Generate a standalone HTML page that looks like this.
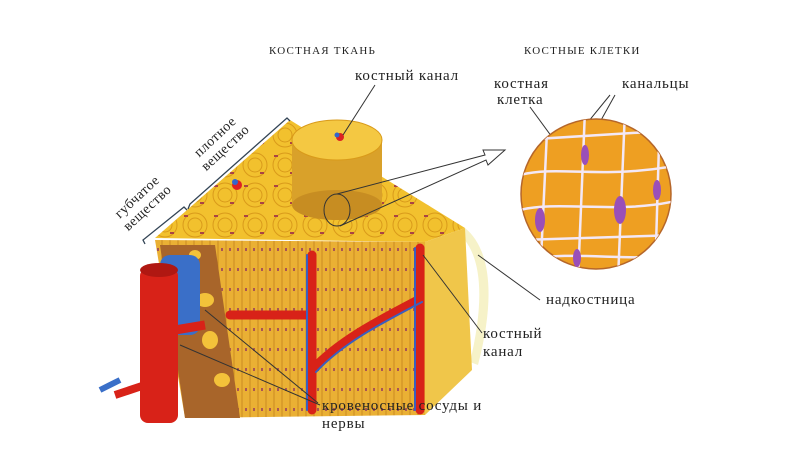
<!DOCTYPE html>
<html><head><meta charset="utf-8"><style>
body{margin:0;background:#fff;width:800px;height:450px;overflow:hidden}
svg{display:block}
text{font-family:"Liberation Serif","DejaVu Serif",serif;fill:#222}
.l{font-size:15px;letter-spacing:0.8px}
</style></head><body>
<svg width="800" height="450" viewBox="0 0 800 450">
<defs>
<pattern id="rings" width="30" height="30" patternUnits="userSpaceOnUse">
<rect width="30" height="30" fill="#f2c12e"/>
<circle cx="15" cy="15" r="12" fill="none" stroke="#d99a1a" stroke-width="1"/>
<circle cx="15" cy="15" r="7" fill="none" stroke="#d99a1a" stroke-width="1"/>
<rect x="4" y="5" width="4" height="2" fill="#a44" />
<rect x="20" y="22" width="4" height="2" fill="#a44"/>
</pattern>
<pattern id="vert" width="8" height="20" patternUnits="userSpaceOnUse">
<rect width="8" height="20" fill="#eab034"/>
<line x1="2" y1="0" x2="2" y2="20" stroke="#c98a22" stroke-width="1"/>
<rect x="5" y="8" width="2" height="3" fill="#a55"/>
</pattern>
</defs>
<!-- periosteum -->
<path d="M465,228 C492,250 495,300 478,365 L470,362 C485,300 482,255 460,235Z" fill="#f6f2c8"/>
<!-- faces -->
<polygon points="155,238 290,120 465,228 425,242" fill="url(#rings)"/>
<polygon points="155,240 425,242 425,415 185,418" fill="url(#vert)"/>
<polygon points="425,242 465,228 472,370 425,415" fill="#f0c64a"/>
<polygon points="160,245 215,245 240,418 185,418" fill="#a8652a"/>
<g fill="#f3c23a"><ellipse cx="185" cy="270" rx="8" ry="6"/><ellipse cx="205" cy="300" rx="9" ry="7"/><ellipse cx="210" cy="340" rx="8" ry="9"/><ellipse cx="222" cy="380" rx="8" ry="7"/><ellipse cx="195" cy="255" rx="6" ry="5"/></g>
<!-- cylinder -->
<rect x="292" y="140" width="90" height="65" fill="#d9a12a"/>
<ellipse cx="337" cy="205" rx="45" ry="15" fill="#c78d22"/>
<ellipse cx="337" cy="140" rx="45" ry="20" fill="#f4c842" stroke="#d99a1a"/>
<circle cx="340" cy="137" r="4" fill="#d22"/><circle cx="337" cy="135" r="2.5" fill="#36c"/>
<circle cx="237" cy="185" r="5" fill="#d22"/><circle cx="235" cy="182" r="3" fill="#36c"/>
<!-- vessels in block -->
<g fill="none" stroke-linecap="round">
<path d="M312,255 L312,410" stroke="#d82218" stroke-width="9"/>
<path d="M420,248 L420,410" stroke="#d82218" stroke-width="9"/>
<path d="M230,315 L312,315" stroke="#d82218" stroke-width="9"/>
<path d="M312,370 C340,340 380,320 418,300" stroke="#d82218" stroke-width="9"/>
<path d="M316,372 C344,342 384,322 422,302" stroke="#3a5fc0" stroke-width="2"/>
<path d="M307,255 L307,410" stroke="#3a5fc0" stroke-width="2"/>
<path d="M415,248 L415,410" stroke="#3a5fc0" stroke-width="2"/>
</g>
<rect x="160" y="255" width="40" height="80" rx="10" fill="#3a6fc8"/>
<path d="M170,330 L150,340" stroke="#3a6fc8" stroke-width="8"/>
<path d="M120,380 L100,390" stroke="#3a6fc8" stroke-width="6"/>
<rect x="140" y="268" width="38" height="155" rx="8" fill="#d82218"/>
<ellipse cx="159" cy="270" rx="19" ry="7" fill="#b01812"/>
<path d="M175,330 L205,325" stroke="#d82218" stroke-width="9"/>
<path d="M145,385 L115,395" stroke="#d82218" stroke-width="8"/>
<!-- leader lines -->
<g stroke="#333" stroke-width="1" fill="none">
<line x1="375" y1="85" x2="343" y2="135"/>
<line x1="180" y1="345" x2="320" y2="405"/>
<line x1="205" y1="310" x2="318" y2="403"/>
<line x1="423" y1="255" x2="482" y2="333"/>
<line x1="478" y1="255" x2="540" y2="300"/>
<line x1="530" y1="107" x2="560" y2="148"/>
<line x1="610" y1="95" x2="575" y2="138"/>
<line x1="615" y1="95" x2="590" y2="140"/>
<ellipse cx="337" cy="210" rx="13" ry="16"/>
<path d="M337,194 L485,155 L483,150 L505,150 L488,165 L486,160 L340,226"/>
</g>
<polyline points="145,244 143,240 184,207 187,210" fill="none" stroke="#345" stroke-width="1.3"/>
<polyline points="188,209 190,204 287,118 290,121" fill="none" stroke="#345" stroke-width="1.3"/>
<!-- cells circle -->
<clipPath id="cc"><circle cx="596" cy="194" r="75"/></clipPath>
<circle cx="596" cy="194" r="75" fill="#ee9f22" stroke="#b5662a" stroke-width="1.5"/>
<g clip-path="url(#cc)" stroke="#f3e8f6" stroke-width="2.5" fill="none">
<path d="M548,110 L540,280 M585,110 L578,280 M625,110 L618,280 M660,110 L655,280"/>
<path d="M520,140 L680,130 M520,175 C560,165 600,180 680,165 M520,210 C560,200 620,215 680,200 M520,240 L680,235 M520,260 C580,250 620,262 680,255"/>
</g>
<g fill="#9a4fb8"><ellipse cx="585" cy="155" rx="4" ry="10"/><ellipse cx="540" cy="220" rx="5" ry="12"/><ellipse cx="620" cy="210" rx="6" ry="14"/><ellipse cx="657" cy="190" rx="4" ry="10"/><ellipse cx="577" cy="258" rx="4" ry="9"/></g>
<!-- text -->
<text x="269" y="54" font-size="11" letter-spacing="1.2">КОСТНАЯ ТКАНЬ</text>
<text x="524" y="54" font-size="11" letter-spacing="1.2">КОСТНЫЕ КЛЕТКИ</text>
<text x="355" y="80" class="l">костный канал</text>
<text x="494" y="88" class="l">костная</text>
<text x="497" y="104" class="l">клетка</text>
<text x="622" y="88" class="l">канальцы</text>
<text x="546" y="304" class="l">надкостница</text>
<text x="483" y="338" class="l">костный</text>
<text x="483" y="356" class="l">канал</text>
<text x="322" y="410" class="l">кровеносные сосуды и</text>
<text x="322" y="428" class="l">нервы</text>
<g transform="translate(140,200) rotate(-43)"><text x="0" y="0" font-size="14" text-anchor="middle" letter-spacing="0.5">губчатое</text><text x="0" y="15" font-size="14" text-anchor="middle" letter-spacing="0.5">вещество</text></g>
<g transform="translate(218,140) rotate(-43)"><text x="0" y="0" font-size="14" text-anchor="middle" letter-spacing="0.5">плотное</text><text x="0" y="15" font-size="14" text-anchor="middle" letter-spacing="0.5">вещество</text></g>
</svg>
</body></html>
